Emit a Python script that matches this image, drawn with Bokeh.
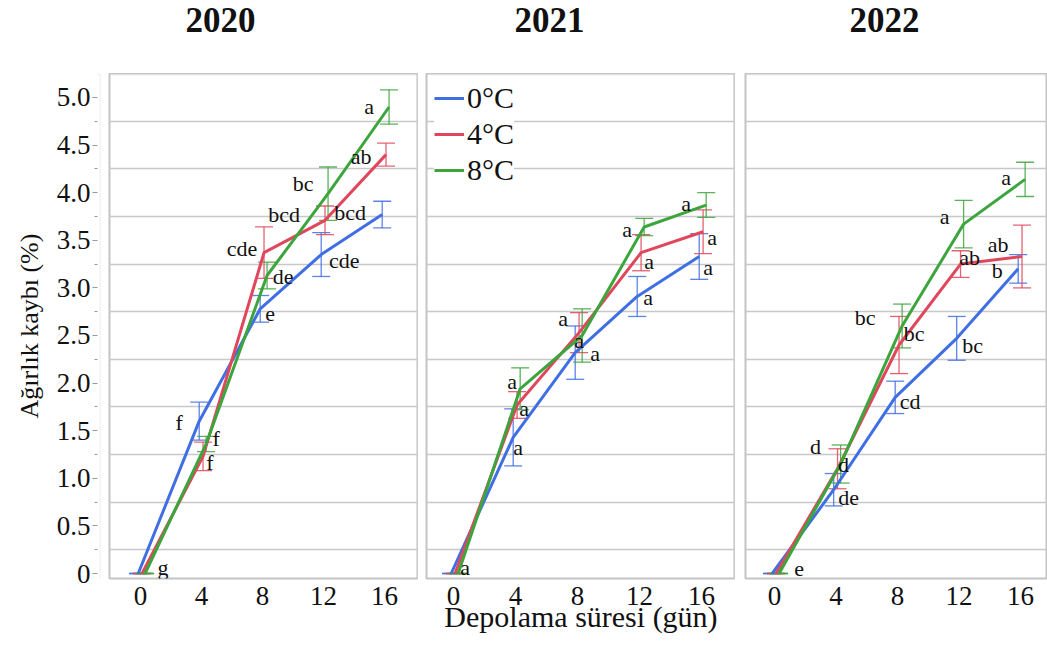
from bokeh.plotting import figure
from bokeh.models import (Range1d, FixedTicker, ColumnDataSource, Whisker, TeeHead, LabelSet,
                          BoxAnnotation, Legend, LegendItem, Spacer, CustomJSTickFormatter, Title)
from bokeh.layouts import row, column
from bokeh.transform import dodge
from bokeh.core.properties import value
from bokeh.embed import file_html
from bokeh.resources import INLINE

FONT = "Liberation Serif"

# ---------------- data ----------------
days = [0, 4, 8, 12, 16]
temps = ["0°C", "4°C", "8°C"]
years = ["2020", "2021", "2022"]

# 2020
m2020_0 = [0, 1.60, 2.78, 3.35, 3.77]
m2020_4 = [0, 1.23, 3.37, 3.71, 4.40]
m2020_8 = [0, 1.36, 3.13, 3.99, 4.90]
e2020_0 = [0, 0.20, 0.14, 0.23, 0.14]
e2020_4 = [0, 0.15, 0.27, 0.15, 0.12]
e2020_8 = [0, 0.08, 0.14, 0.28, 0.18]
l2020_0 = ["", "f", "e", "cde", "bcd"]
l2020_4 = ["", "f", "cde", "bcd", "ab"]
l2020_8 = ["g", "f", "de", "bc", "a"]

# 2021
m2021_0 = [0, 1.43, 2.32, 2.91, 3.33]
m2021_4 = [0, 1.77, 2.53, 3.37, 3.59]
m2021_8 = [0, 1.94, 2.50, 3.64, 3.87]
e2021_0 = [0, 0.30, 0.28, 0.21, 0.24]
e2021_4 = [0, 0.14, 0.21, 0.19, 0.23]
e2021_8 = [0, 0.22, 0.28, 0.09, 0.13]
l2021_0 = ["", "a", "a", "a", "a"]
l2021_4 = ["", "a", "a", "a", "a"]
l2021_8 = ["a", "a", "a", "a", "a"]

# 2022
m2022_0 = [0, 0.88, 1.85, 2.47, 3.20]
m2022_4 = [0, 1.10, 2.40, 3.25, 3.33]
m2022_8 = [0, 1.15, 2.60, 3.67, 4.14]
e2022_0 = [0, 0.17, 0.17, 0.23, 0.15]
e2022_4 = [0, 0.21, 0.30, 0.14, 0.33]
e2022_8 = [0, 0.20, 0.23, 0.25, 0.18]
l2022_0 = ["", "de", "cd", "bc", "b"]
l2022_4 = ["", "d", "bc", "ab", "ab"]
l2022_8 = ["e", "d", "bc", "a", "a"]

y_ticks = [0, 0.5, 1.0, 1.5, 2.0, 2.5, 3.0, 3.5, 4.0, 4.5, 5.0]
y_minor = [0.25, 0.75, 1.25, 1.75, 2.25, 2.75, 3.25, 3.75, 4.25, 4.75]

means = {
    "2020": [m2020_0, m2020_4, m2020_8],
    "2021": [m2021_0, m2021_4, m2021_8],
    "2022": [m2022_0, m2022_4, m2022_8],
}
errs = {
    "2020": [e2020_0, e2020_4, e2020_8],
    "2021": [e2021_0, e2021_4, e2021_8],
    "2022": [e2022_0, e2022_4, e2022_8],
}
letters = {
    "2020": [l2020_0, l2020_4, l2020_8],
    "2021": [l2021_0, l2021_4, l2021_8],
    "2022": [l2022_0, l2022_4, l2022_8],
}

# ---------------- style ----------------
colors = ["#3F6FE3", "#E0475C", "#3DA53D"]
dodges = [-0.15, 0.1, 0.3]
# label pixel offsets (dx right, dy up) per year / series / point
lab_dx = {
    "2020": [[0, -20, 10, 23, -32], [0, 7, -22, -41, -25], [18, 10, 16, -25, -20]],
    "2021": [[0, 5, 20, 11, 9], [0, 7, -16, 8, 9], [7, -8, -3, -17, -20]],
    "2022": [[0, 15, 15, 16, -21], [0, 6, 15, 9, -24], [20, -25, -37, -19, -19]],
}
lab_dy = {
    "2020": [[0, -1, -5, -6, 2], [0, -6, 4, 6, -2], [6, 5.5, -1, 10, 1]],
    "2021": [[0, -10, -1, -1, -11], [0, -3.5, 14, -9, -6], [6, 7, -5, -2.5, 2]],
    "2022": [[0, -8, -4, -7, -1.5], [0, 4, 11.5, 6.5, 12], [5, 17.5, 8.5, 7.5, 2]],
}

Y0, Y1 = -0.0525, 5.252
TITLE_H, FRAME_H, BOT = 73, 505, 64
BOX_BOTTOM = FRAME_H + BOT - 1
BOX_COLOR = "#d6d6d6"
WIDTHS = [312, 312, 305]
GAPS = [5, 7]


def outer_box(p, right):
    p.add_layout(BoxAnnotation(left=1, right=right, top=1, bottom=BOX_BOTTOM,
                               left_units="canvas", right_units="canvas",
                               top_units="canvas", bottom_units="canvas",
                               fill_alpha=0, line_color=BOX_COLOR, line_width=2,
                               level="overlay"))


def make_title(year, W, offset):
    t = figure(width=W, height=TITLE_H, min_border=0, x_range=Range1d(0, 1), y_range=Range1d(0, 1),
               x_axis_location=None, y_axis_location=None, output_backend="svg",
               toolbar_location=None)
    t.add_layout(Title(text=year, text_font=FONT, text_font_size="35px", text_font_style="bold",
                       text_color="#111111", align="left", offset=offset,
                       vertical_align="top", standoff=14), "above")
    t.outline_line_color = None
    t.grid.visible = False
    t.background_fill_color = "white"
    t.border_fill_color = "white"
    return t


def make_panel(year, W, xs, xe, xlabel=None, legend=False, open_right=False):
    p = figure(width=W, height=FRAME_H + BOT,
               frame_width=W - 3, frame_height=FRAME_H,
               min_border_left=3, min_border_right=0, min_border_top=0, min_border_bottom=BOT,
               x_range=Range1d(xs, xe), y_range=Range1d(Y0, Y1),
               y_axis_location=None, output_backend="svg", toolbar_location=None)

    p.outline_line_color = "#c4c4c4"
    p.outline_line_width = 2
    p.background_fill_color = "white"
    p.border_fill_color = "white"

    p.xgrid.visible = False
    p.ygrid.ticker = FixedTicker(ticks=y_minor)
    p.ygrid.grid_line_color = "#c8c8c8"
    p.ygrid.grid_line_width = 1.5

    ax = p.xaxis[0]
    ax.ticker = FixedTicker(ticks=days)
    ax.axis_line_color = None
    ax.major_tick_line_color = None
    ax.minor_tick_line_color = None
    ax.major_label_text_font = FONT
    ax.major_label_text_font_size = "27px"
    ax.major_label_text_color = "#111111"
    ax.major_label_standoff = 2
    if xlabel:
        ax.axis_label = xlabel
        ax.axis_label_text_font = FONT
        ax.axis_label_text_font_size = "30px"
        ax.axis_label_text_font_style = "normal"
        ax.axis_label_text_color = "#111111"
        ax.axis_label_standoff = -8

    items = []
    for i in range(3):
        mv = means[year][i]
        ev = errs[year][i]
        src = ColumnDataSource(dict(
            x=days, y=mv,
            upper=[m + e for m, e in zip(mv, ev)],
            lower=[m - e for m, e in zip(mv, ev)],
            lab=letters[year][i],
            dx=lab_dx[year][i], dy=lab_dy[year][i],
        ))
        xd = dodge("x", dodges[i])
        r = p.line(x=xd, y="y", source=src, line_color=colors[i], line_width=3)
        items.append(LegendItem(label=temps[i], renderers=[r]))
        p.add_layout(Whisker(base=xd, upper="upper", lower="lower", source=src,
                             line_color=colors[i], line_width=1.3, line_alpha=0.85,
                             upper_head=TeeHead(size=18, line_color=colors[i], line_width=1.3, line_alpha=0.85),
                             lower_head=TeeHead(size=18, line_color=colors[i], line_width=1.3, line_alpha=0.85)))
        p.add_layout(LabelSet(x=xd, y="y", text="lab", x_offset="dx", y_offset="dy", source=src,
                              text_font=value(FONT), text_font_size=value("22px"),
                              text_color="#111111", text_align="center", text_baseline="middle"))
    if legend:
        lg = Legend(items=items, location="top_left", margin=8, padding=1,
                    spacing=2, glyph_width=30, glyph_height=30, label_height=30,
                    label_standoff=3, label_text_font=FONT, label_text_font_size="30px",
                    label_text_color="#111111", background_fill_color="white",
                    background_fill_alpha=1.0, border_line_color=None)
        p.add_layout(lg)

    outer_box(p, W + 10 if open_right else W - 1)
    return p


# y axis panel
ya = figure(width=93, height=FRAME_H + BOT, frame_width=4, frame_height=FRAME_H,
            min_border_left=89, min_border_right=0, min_border_top=0, min_border_bottom=BOT,
            x_range=Range1d(0, 1), y_range=Range1d(Y0, Y1), x_axis_location=None,
            output_backend="svg", toolbar_location=None)
ya.outline_line_color = None
ya.grid.visible = False
yax = ya.yaxis[0]
yax.ticker = FixedTicker(ticks=y_ticks, minor_ticks=y_minor)
yax.formatter = CustomJSTickFormatter(code="return tick == 0 ? '0' : tick.toFixed(1);")
yax.axis_line_color = None
yax.major_tick_in = 0
yax.major_tick_out = 5
yax.minor_tick_in = 0
yax.minor_tick_out = 3
yax.major_tick_line_color = "#9a9a9a"
yax.minor_tick_line_color = "#9a9a9a"
yax.major_label_text_font = FONT
yax.major_label_text_font_size = "27px"
yax.major_label_text_color = "#111111"
yax.major_label_standoff = 2
yax.axis_label = "Ağırlık kaybı (%)"
yax.axis_label_text_font = FONT
yax.axis_label_text_font_size = "26px"
yax.axis_label_text_font_style = "normal"
yax.axis_label_text_color = "#111111"
yax.axis_label_standoff = 10
outer_box(ya, 92)

t1 = make_title("2020", WIDTHS[0], 79)
t2 = make_title("2021", WIDTHS[1], 91)
t3 = make_title("2022", WIDTHS[2], 107)

p1 = make_panel("2020", WIDTHS[0], -2.033, 18.23)
p2 = make_panel("2021", WIDTHS[1], -1.742, 18.19, xlabel="Depolama süresi (gün)", legend=True)
p3 = make_panel("2022", WIDTHS[2], -1.886, 17.756, open_right=True)

layout = column(
    row(Spacer(width=8 + 93 + 5, height=TITLE_H), t1, Spacer(width=GAPS[0]), t2,
        Spacer(width=GAPS[1]), t3),
    row(Spacer(width=8), ya, Spacer(width=5), p1, Spacer(width=GAPS[0]), p2,
        Spacer(width=GAPS[1]), p3),
)

open("out.html", "w").write(file_html(layout, INLINE))
